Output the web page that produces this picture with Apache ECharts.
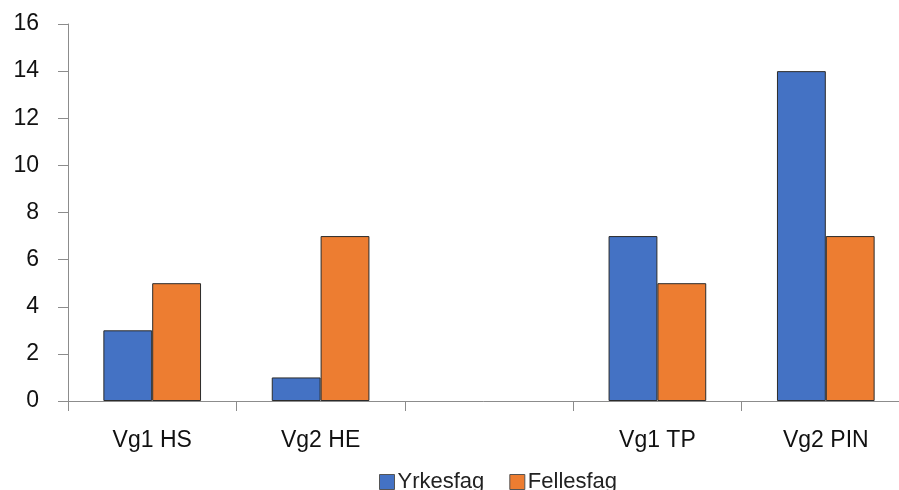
<!DOCTYPE html>
<html><head><meta charset="utf-8">
<script src="https://cdn.jsdelivr.net/npm/echarts@6/dist/echarts.min.js"></script>
<style>html,body{margin:0;padding:0;background:#fff}#c{width:899px;height:490px}</style>
</head><body><div id="c"></div>
<script>
const categories = ["Vg1 HS", "Vg2 HE", "", "Vg1 TP", "Vg2 PIN"];
const yrkesfag = [3, 1, null, 7, 14];
const fellesfag = [5, 7, null, 5, 7];
const seriesNames = ["Yrkesfag", "Fellesfag"];
const FONT = "Liberation Sans";
const chart = echarts.init(document.getElementById('c'), null, {renderer: 'canvas'});
chart.setOption({
  animation: false,
  textStyle: {fontFamily: FONT},
  grid: {left: 68, top: 24, width: 842, height: 377, containLabel: false, outerBoundsMode: 'none'},
  legend: {
    data: seriesNames, top: 466, left: 374,
    itemWidth: 15, itemHeight: 15, itemGap: 25,
    icon: 'rect',
    textStyle: {fontFamily: FONT, fontSize: 22, color: '#222', padding: [0,0,0,-2]},
    itemStyle: {borderColor: '#555', borderWidth: 1}
  },
  xAxis: {
    type: 'category', data: categories, boundaryGap: true,
    axisLine: {lineStyle: {color: '#8c8c8c', width: 1}},
    axisTick: {show: true, length: 10, alignWithLabel: false, lineStyle: {color: '#8c8c8c'}},
    axisLabel: {fontFamily: FONT, fontSize: 23, color: '#111', margin: 28, interval: 0}
  },
  yAxis: {
    type: 'value', min: 0, max: 16, interval: 2,
    axisLine: {show: true, lineStyle: {color: '#8c8c8c', width: 1}},
    axisTick: {show: true, length: 10, lineStyle: {color: '#8c8c8c'}},
    splitLine: {show: false},
    axisLabel: {fontFamily: FONT, fontSize: 23, color: '#111', margin: 29}
  },
  series: [
    {name: seriesNames[0], type: 'bar', data: yrkesfag, barGap: '0%', barCategoryGap: '42%',
     itemStyle: {color: '#4472C4', borderColor: '#2b2b2b', borderWidth: 1}},
    {name: seriesNames[1], type: 'bar', data: fellesfag, barGap: '0%', barCategoryGap: '42%',
     itemStyle: {color: '#ED7D31', borderColor: '#2b2b2b', borderWidth: 1}}
  ]
});
</script></body></html>
